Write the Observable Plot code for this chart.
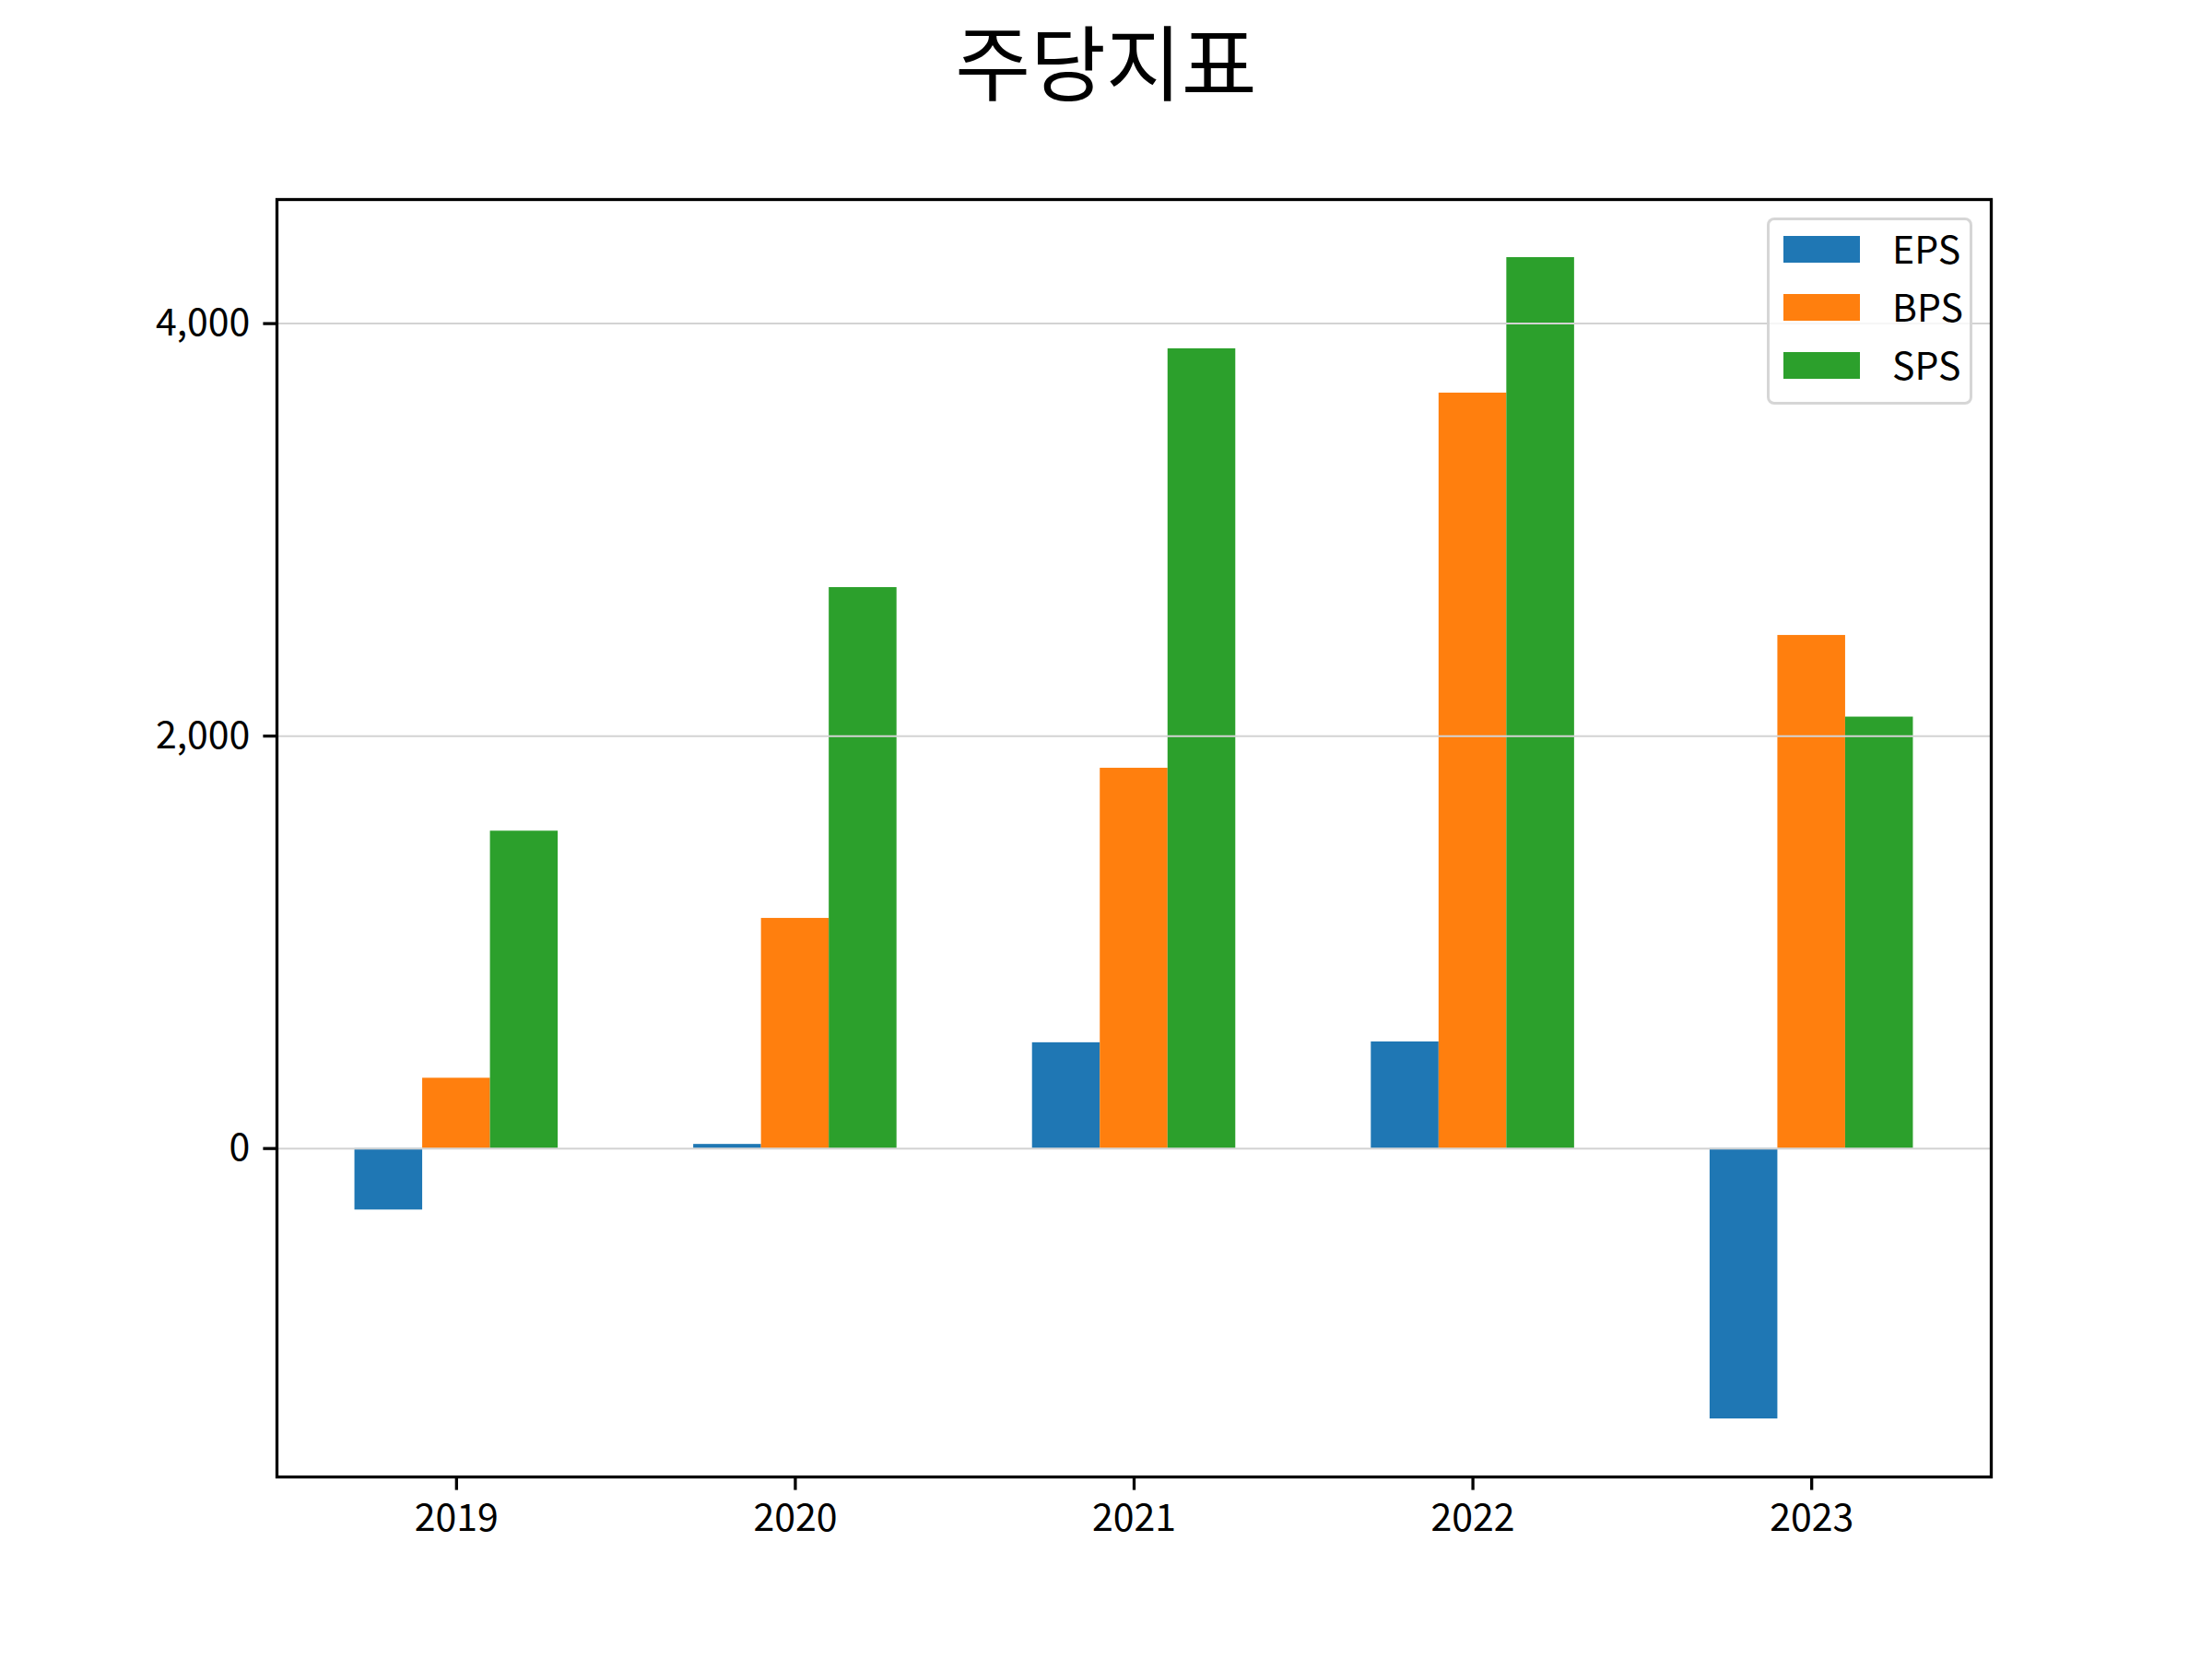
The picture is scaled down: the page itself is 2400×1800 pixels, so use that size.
<!DOCTYPE html>
<html>
<head>
<meta charset="utf-8">
<script src="https://cdn.jsdelivr.net/npm/d3@7"></script>
<script src="https://cdn.jsdelivr.net/npm/@observablehq/plot@0.6"></script>
<style>
  html, body { margin: 0; padding: 0; background: white; }
  #fig { position: relative; width: 2400px; height: 1800px; background: white; font-family: 'Noto Sans CJK KR', 'Noto Sans', sans-serif; }
  #title { position: absolute; left: 0; top: 0; width: 2400px; height: 140px; text-align: center; font-size: 89px; line-height: 128px; color: black; }
  #chart { position: absolute; left: 0; top: 140px; }
  #legend { position: absolute; left: 1917px; top: 236px; width: 223px; height: 203px; box-sizing: border-box;
            border: 3.3px solid rgba(204,204,204,0.8); border-radius: 8px; background: rgba(255,255,255,0.8); }
  .sw { position: absolute; left: 15px; width: 83px; height: 29px; }
  .lt { position: absolute; left: 133px; font-size: 41px; line-height: 50px; height: 50px; color: black; white-space: nowrap; }
</style>
</head>
<body>
<div id="fig">
  <div id="title"></div>
  <div id="chart"></div>
  <div id="legend"></div>
</div>
<script>
// ---- data ----
const title = "주당지표";
const years = ["2019", "2020", "2021", "2022", "2023"];
const series = ["EPS", "BPS", "SPS"];
const eps = [-298, 20, 513, 517, -1311];
const bps = [341, 1116, 1844, 3663, 2488];
const sps = [1539, 2720, 3878, 4320, 2092];
const colors = ["#1f77b4", "#ff7f0e", "#2ca02c"];
const yTicks = [0, 2000, 4000];

// ---- table ----
const values = [eps, bps, sps];
const table = [];
years.forEach((yr, i) => {
  series.forEach((s, j) => {
    table.push({i, j, year: yr, series: s, value: values[j][i]});
  });
});

const barW = 0.2;
const x1 = d => d.i + (d.j - 1) * barW - barW / 2;
const x2 = d => d.i + (d.j - 1) * barW + barW / 2;

// matplotlib-like 5% margins
const xlo = -1 * barW - barW / 2, xhi = (years.length - 1) + barW + barW / 2;
const xm = (xhi - xlo) * 0.05;
const allV = [...eps, ...bps, ...sps, 0];
const [vmin, vmax] = d3.extent(allV);
const ym = (vmax - vmin) * 0.05;

const chart = Plot.plot({
  width: 2400,
  height: 1660,
  marginTop: 76,
  marginBottom: 198,
  marginLeft: 300,
  marginRight: 240,
  style: {fontFamily: "'Noto Sans CJK KR', 'Noto Sans', sans-serif", fontSize: "42px", color: "black", background: "white", overflow: "visible"},
  x: {domain: [xlo - xm, xhi + xm]},
  y: {domain: [vmin - ym, vmax + ym]},
  color: {domain: series, range: colors},
  marks: [
    Plot.rect(table, {x1, x2, y1: 0, y2: "value", fill: "series"}),
    Plot.ruleY(yTicks, {stroke: "#d3d3d3", strokeWidth: 2}),
    Plot.frame({stroke: "black", strokeWidth: 3.3}),
    Plot.axisX(d3.range(years.length), {tickFormat: i => years[i], tickSize: 14.6, tickPadding: 14.6, strokeWidth: 3.3, label: null, fontSize: 41}),
    Plot.axisY(yTicks, {tickFormat: d3.format(","), tickSize: 14.6, tickPadding: 14.6, strokeWidth: 3.3, label: null, fontSize: 41})
  ]
});
document.getElementById("chart").appendChild(chart);
document.getElementById("title").textContent = title;

// legend
const lg = document.getElementById("legend");
series.forEach((s, j) => {
  const top = 17 + j * 63;
  const sw = document.createElement("div");
  sw.className = "sw";
  sw.style.top = top + "px";
  sw.style.background = colors[j];
  lg.appendChild(sw);
  const t = document.createElement("div");
  t.className = "lt";
  t.style.top = (top + 14.5 - 25 - 3) + "px";
  t.textContent = s;
  lg.appendChild(t);
});
</script>
</body>
</html>
